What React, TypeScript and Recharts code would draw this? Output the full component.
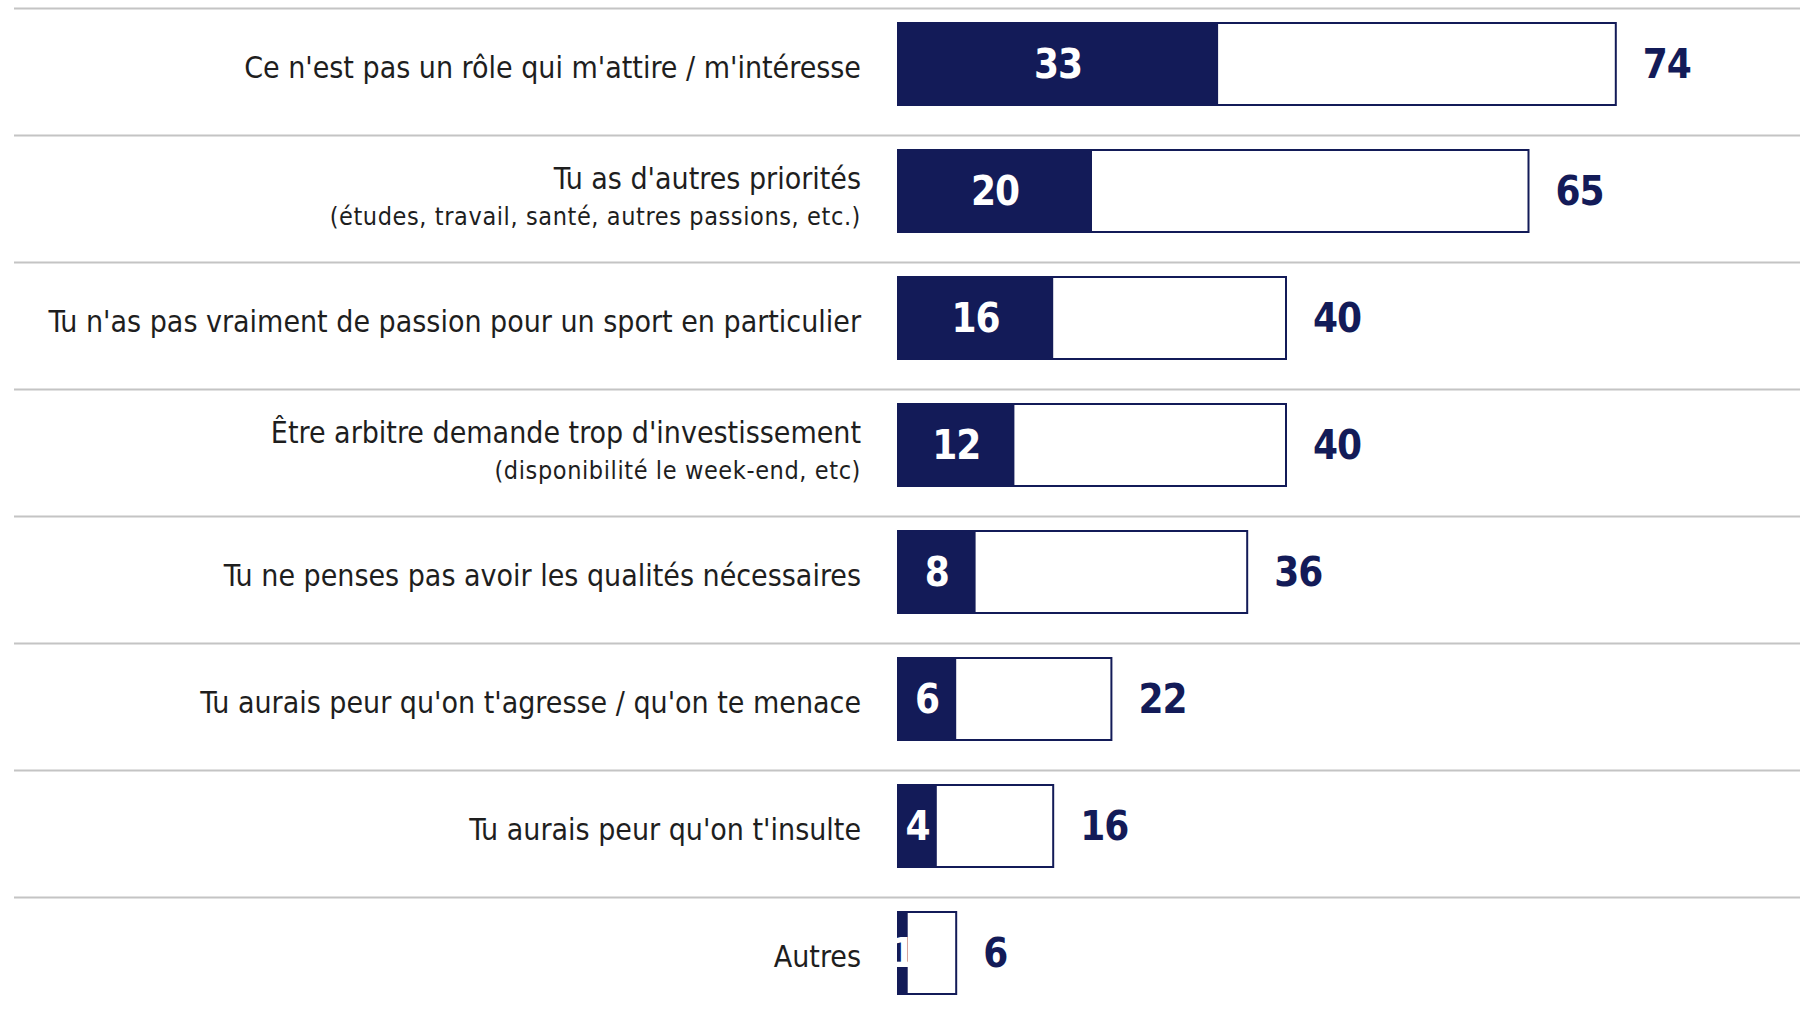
import React from 'react';
import { BarChart, Bar, XAxis, YAxis, LabelList } from 'recharts';

const categories = [
  "Ce n'est pas un rôle qui m'attire / m'intéresse",
  "Tu as d'autres priorités",
  "Tu n'as pas vraiment de passion pour un sport en particulier",
  "Être arbitre demande trop d'investissement",
  "Tu ne penses pas avoir les qualités nécessaires",
  "Tu aurais peur qu'on t'agresse / qu'on te menace",
  "Tu aurais peur qu'on t'insulte",
  "Autres",
];

const subLabels = [
  '',
  '(études, travail, santé, autres passions, etc.)',
  '',
  '(disponibilité le week-end, etc)',
  '',
  '',
  '',
  '',
];

const totalValues = [74, 65, 40, 40, 36, 22, 16, 6];
const firstValues = [33, 20, 16, 12, 8, 6, 4, 1];

const data = categories.map((name, i) => ({
  name,
  total: totalValues[i],
  first: firstValues[i],
}));

const NAVY = '#131b58';
const LABEL_FONT = "'Liberation Sans Narrow', 'DejaVu Sans Condensed', Roboto, sans-serif";
const NUM_FONT = "'DejaVu Sans Condensed', 'Liberation Sans Narrow', Roboto, sans-serif";

function CategoryTick(props: any) {
  const { x, y, payload } = props;
  const idx = categories.indexOf(payload.value);
  const sub = idx >= 0 ? subLabels[idx] : '';
  const tx = x - 37;
  return (
    <g>
      <line x1={14} x2={1800} y1={y - 55} y2={y - 55} stroke="#c4c4c4" strokeWidth={2} />
      {sub ? (
        <>
          <text x={tx} y={y - 12} textAnchor="end" dominantBaseline="central" fontFamily={LABEL_FONT} fontSize={30} fill="#1e1e1e">
            {payload.value}
          </text>
          <text x={tx} y={y + 26} textAnchor="end" dominantBaseline="central" fontFamily={LABEL_FONT} fontSize={25} letterSpacing={0.6} fill="#1e1e1e">
            {sub}
          </text>
        </>
      ) : (
        <text x={tx} y={y + 4} textAnchor="end" dominantBaseline="central" fontFamily={LABEL_FONT} fontSize={30} fill="#1e1e1e">
          {payload.value}
        </text>
      )}
    </g>
  );
}

export default function App() {
  return (
    <div style={{ position: 'absolute', left: 0, top: 0, width: 1805, height: 1016, background: '#fff' }}>
      <BarChart
        width={1805}
        height={1016}
        layout="vertical"
        data={data}
        margin={{ top: 0, right: 34, bottom: 0, left: 0 }}
        barSize={82}
        barGap={-82}
      >
        <XAxis type="number" domain={[0, 90]} hide />
        <YAxis
          type="category"
          dataKey="name"
          width={898}
          axisLine={false}
          tickLine={false}
          tickSize={0}
          tickMargin={0}
          interval={0}
          tick={<CategoryTick />}
        />
        <Bar dataKey="total" fill="#ffffff" stroke={NAVY} strokeWidth={2} isAnimationActive={false}>
          <LabelList
            dataKey="total"
            position="right"
            offset={27}
            fill={NAVY}
            fontSize={40}
            fontWeight={700}
            letterSpacing={-1}
            fontFamily={NUM_FONT}
          />
        </Bar>
        <Bar dataKey="first" fill={NAVY} isAnimationActive={false}>
          <LabelList
            dataKey="first"
            position="center"
            fill="#ffffff"
            fontSize={40}
            fontWeight={700}
            letterSpacing={-1}
            fontFamily={NUM_FONT}
          />
        </Bar>
      </BarChart>
    </div>
  );
}
